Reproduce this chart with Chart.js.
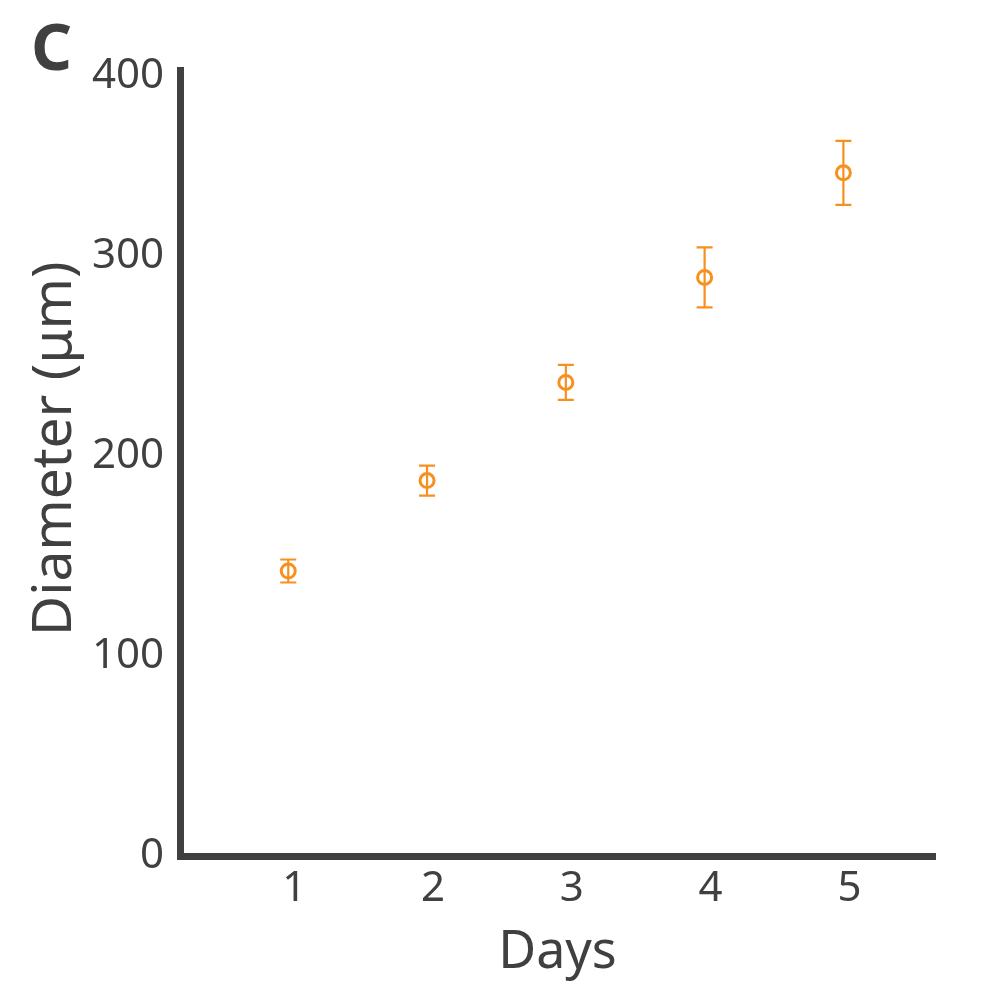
<!DOCTYPE html>
<html>
<head>
<meta charset="utf-8">
<script src="https://cdn.jsdelivr.net/npm/chart.js@4.4.1/dist/chart.umd.min.js"></script>
<style>
  html, body { margin: 0; padding: 0; background: #fff; }
  #wrap { position: relative; width: 1000px; height: 1000px; }
  #panel { position: absolute; left: 31px; top: 14px; font: bold 64px "Noto Sans", sans-serif; line-height: 1; color: #404040; }
</style>
</head>
<body>
<div id="wrap">
  <canvas id="diamChart" width="1000" height="1000"></canvas>
  <div id="panel">C</div>
</div>
<script>
// data
const days = [1, 2, 3, 4, 5];
const diameter = [142.5, 187.7, 236.8, 289.3, 341.6];
const diameterErr = [5.75, 7.5, 8.75, 15, 16];
const yTicks = [0, 100, 200, 300, 400];
const xTicks = [1, 2, 3, 4, 5];

const orange = '#F7901E';
const ink = '#404040';

// vertical error bars with caps
const errorBars = {
  id: 'errorBars',
  afterDatasetsDraw(chart) {
    const ctx = chart.ctx;
    const xs = chart.scales.x, ys = chart.scales.y;
    ctx.save();
    ctx.strokeStyle = orange;
    ctx.lineWidth = 2.2;
    days.forEach((d, i) => {
      const px = xs.getPixelForValue(d);
      const top = ys.getPixelForValue(diameter[i] + diameterErr[i]);
      const bot = ys.getPixelForValue(diameter[i] - diameterErr[i]);
      ctx.beginPath();
      ctx.moveTo(px, top); ctx.lineTo(px, bot);
      ctx.moveTo(px - 8, top); ctx.lineTo(px + 8, top);
      ctx.moveTo(px - 8, bot); ctx.lineTo(px + 8, bot);
      ctx.stroke();
    });
    ctx.restore();
  }
};

const ctx = document.getElementById('diamChart').getContext('2d');
const chart = new Chart(ctx, {
  type: 'scatter',
  data: {
    datasets: [{
      data: days.map((d, i) => ({ x: d, y: diameter[i] })),
      pointStyle: 'circle',
      pointRadius: 7,
      pointBorderWidth: 3,
      pointBorderColor: orange,
      pointBackgroundColor: 'rgba(0,0,0,0)',
      pointHoverRadius: 7
    }]
  },
  options: {
    responsive: false,
    animation: false,
    layout: { padding: { top: 70, right: 65, left: 0, bottom: 0 } },
    plugins: { legend: { display: false }, tooltip: { enabled: false } },
    scales: {
      x: {
        type: 'linear',
        min: 0.22,
        max: 5.66,
        afterBuildTicks: s => { s.ticks = xTicks.map(v => ({ value: v })); },
        afterFit: s => { s.height = 144; },
        grid: { display: false, drawTicks: false },
        border: { display: true, color: ink, width: 7 },
        ticks: {
          color: ink,
          padding: 8,
          labelOffset: 6,
          font: { family: 'Noto Sans', size: 42 }
        },
        title: {
          display: true,
          text: 'Days',
          color: ink,
          padding: { top: 0, bottom: 16 },
          font: { family: 'Noto Sans', size: 52 }
        }
      },
      y: {
        type: 'linear',
        min: 0,
        max: 393,
        // top label sits at the end of the axis line
        afterBuildTicks: s => { s.ticks = yTicks.map(v => ({ value: Math.min(v, 390) })); },
        afterFit: s => { s.width = 180; },
        grid: { display: false, drawTicks: false },
        border: { display: true, color: ink, width: 7 },
        ticks: {
          color: ink,
          padding: 16,
          callback: (v, i) => String(yTicks[i]),
          font: { family: 'Noto Sans', size: 42 }
        },
        title: {
          display: true,
          text: '  Diameter (μm)',
          color: ink,
          padding: { top: 22, bottom: 0 },
          font: { family: 'Noto Sans', size: 55 }
        }
      }
    }
  },
  plugins: [errorBars]
});
</script>
</body>
</html>
